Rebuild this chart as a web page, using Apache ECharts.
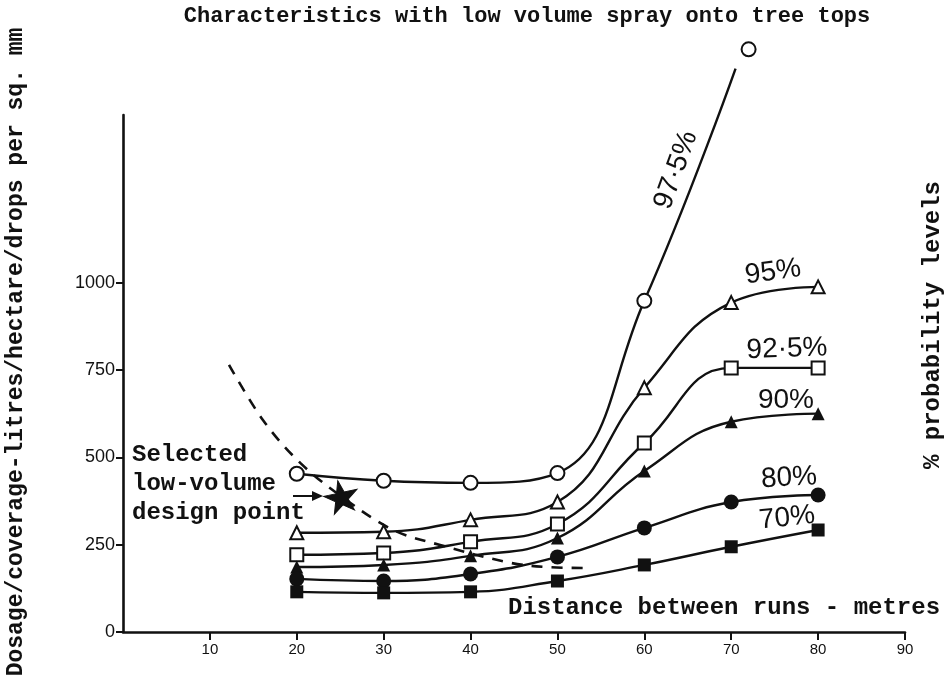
<!DOCTYPE html>
<html>
<head>
<meta charset="utf-8">
<script src="https://cdn.jsdelivr.net/npm/echarts@6/dist/echarts.min.js"></script>
<style>
  html, body { margin: 0; padding: 0; background: #fff; }
  #chart { width: 948px; height: 693px; }
</style>
</head>
<body>
<div id="chart"></div>
<script>
// Axis ticks
const xTicks = [10, 20, 30, 40, 50, 60, 70, 80, 90];
const yTicks = [0, 250, 500, 750, 1000];

// Distance between runs (m)
const distances = [20, 30, 40, 50, 60, 70, 80];

// Dosage at each probability level
const p975 = [453, 433, 427, 455, 948];
const p975CurveEnd = [70.5, 1613];   // where the drawn curve stops
const p975Top = [[72, 1668]];        // last plotted point, beyond the curve
const p95 = [284, 287, 321, 372, 699, 943, 988];
const p925 = [221, 226, 258, 309, 541, 756, 756];
const p90 = [186, 192, 218, 269, 461, 602, 625];
const p80 = [152, 146, 166, 215, 298, 372, 392];
const p70 = [115, 112, 115, 146, 192, 244, 292];

// Dashed selection curve and the chosen design point
const selectionX = [12.2, 16.1, 20.4, 25.2, 31.1, 36.5, 44.6, 48.8, 53.5];
const selectionY = [765, 607, 484, 387, 292, 249, 198, 186, 183];
const designPoint = [[25.1, 388]];

const pairs = (ys) => ys.map((v, i) => [distances[i], v]);

const INK = '#111';
const MONO = '"Liberation Mono", "DejaVu Sans Mono", monospace';
const SANS = '"Liberation Sans", Arial, sans-serif';

function levelSeries(name, ys, symbol, size, extra) {
  return Object.assign({
    name: name,
    type: 'line',
    data: pairs(ys),
    smooth: 0.45,
    symbol: symbol,
    symbolSize: size,
    showAllSymbol: true,
    lineStyle: { color: INK, width: 2.4 },
    itemStyle: { color: INK, borderWidth: 1.6 },
    z: 3
  }, extra || {});
}

const p975Data = pairs(p975).concat([{ value: p975CurveEnd, symbol: 'none' }]);

const starPath = 'path://M50,0 L61,35 L98,35 L68,57 L79,91 L50,70 L21,91 L32,57 L2,35 L39,35 Z';

const chart = echarts.init(document.getElementById('chart'), null, { renderer: 'canvas' });

const curveLabel = (text, x, y, deg) => ({
  type: 'text',
  x: x, y: y,
  rotation: deg * Math.PI / 180,
  style: {
    text: text,
    fill: INK,
    font: '28px ' + SANS,
    align: 'center',
    verticalAlign: 'middle'
  },
  z: 10
});

const monoText = (text, x, y, size, opts) => ({
  type: 'text',
  x: x, y: y,
  rotation: (opts && opts.rotation) || 0,
  style: Object.assign({
    text: text,
    fill: INK,
    font: 'bold ' + size + 'px ' + MONO,
    align: 'left',
    verticalAlign: 'middle'
  }, (opts && opts.style) || {}),
  z: 10
});

chart.setOption({
  backgroundColor: '#fff',
  animation: false,
  grid: { left: 123, right: 43, top: 115, bottom: 61 },
  xAxis: {
    type: 'value',
    min: 0, max: 90, interval: 10,
    splitLine: { show: false },
    axisLine: { lineStyle: { color: INK, width: 2.6 } },
    axisTick: { show: true, customValues: xTicks, length: 8, lineStyle: { color: INK, width: 2 } },
    axisLabel: {
      customValues: xTicks,
      color: INK, fontFamily: SANS, fontSize: 15, margin: 10,
      formatter: (v) => (v === 0 ? '' : String(v))
    }
  },
  yAxis: {
    type: 'value',
    min: 0, max: 1480, interval: 250,
    splitLine: { show: false },
    axisLine: { show: true, lineStyle: { color: INK, width: 2.6 } },
    axisTick: { show: true, customValues: yTicks, inside: false, length: 7, lineStyle: { color: INK, width: 2 } },
    axisLabel: {
      customValues: yTicks,
      color: INK, fontFamily: SANS, fontSize: 18, margin: 8,
      formatter: (v) => (v <= 1000 ? String(v) : '')
    }
  },
  series: [
    levelSeries('97.5%', [], 'emptyCircle', 14, { data: p975Data, clip: false }),
    {
      name: '97.5% top', type: 'scatter', data: p975Top, clip: false,
      symbol: 'emptyCircle', symbolSize: 14,
      itemStyle: { color: INK, borderWidth: 1.6, opacity: 1 }, z: 4
    },
    levelSeries('95%', p95, 'emptyTriangle', 13),
    levelSeries('92.5%', p925, 'emptyRect', 13),
    levelSeries('90%', p90, 'triangle', 13),
    levelSeries('80%', p80, 'circle', 15),
    levelSeries('70%', p70, 'rect', 13),
    {
      name: 'selection', type: 'line',
      data: selectionX.map((x, i) => [x, selectionY[i]]),
      smooth: 0.35, symbol: 'none',
      lineStyle: { color: INK, width: 2.6, type: [11, 9] },
      z: 2
    },
    {
      name: 'design point', type: 'scatter', data: designPoint,
      symbol: starPath, symbolSize: [34, 32], symbolRotate: 12,
      itemStyle: { color: INK, borderColor: INK, borderWidth: 1, opacity: 1 },
      z: 5
    }
  ],
  graphic: [
    monoText('Characteristics with low volume spray onto tree tops', 527, 16, 22, { style: { align: 'center' } }),
    monoText('Dosage/coverage-litres/hectare/drops per sq. mm', 16, 352, 23, { rotation: Math.PI / 2, style: { align: 'center' } }),
    monoText('% probability levels', 933, 325, 24, { rotation: Math.PI / 2, style: { align: 'center' } }),
    monoText('Distance between runs - metres', 508, 608, 24),
    monoText('Selected', 132, 455, 24),
    monoText('low-volume', 132, 484, 24),
    monoText('design point', 132, 513, 24),
    {
      type: 'line',
      shape: { x1: 293, y1: 496, x2: 314, y2: 496 },
      style: { stroke: INK, lineWidth: 2 }, z: 10
    },
    {
      type: 'polygon',
      shape: { points: [[323, 496], [312, 491], [312, 501]] },
      style: { fill: INK }, z: 10
    },
    curveLabel('97·5%', 676, 170, 70),
    curveLabel('95%', 773, 272, 8),
    curveLabel('92·5%', 787, 349, 2),
    curveLabel('90%', 786, 400, 0),
    curveLabel('80%', 789, 478, 3),
    curveLabel('70%', 787, 518, 6)
  ]
});
</script>
</body>
</html>
